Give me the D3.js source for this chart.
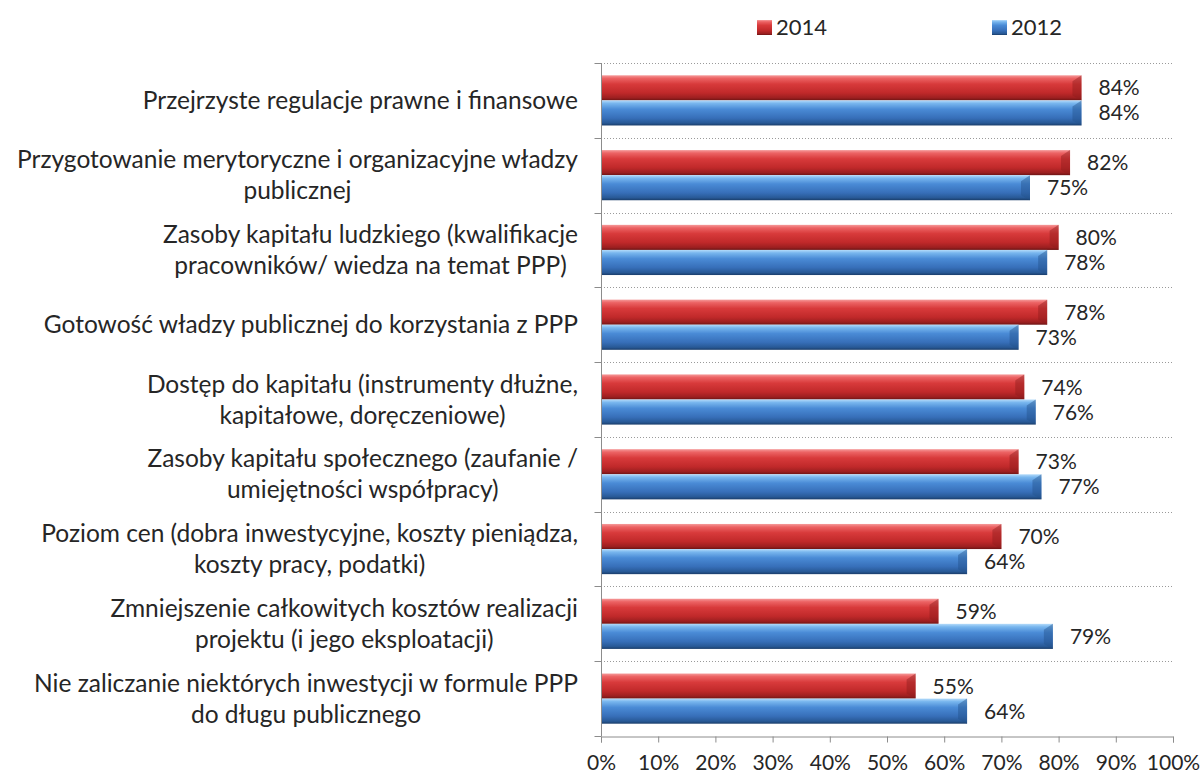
<!DOCTYPE html>
<html>
<head>
<meta charset="utf-8">
<script src="https://d3js.org/d3.v7.min.js"></script>
<style>
  body { margin: 0; background: #fff; }
  text { font-family: Lato, "Open Sans", sans-serif; fill: #262626; }
</style>
</head>
<body>
<div id="chart"></div>
<script>
// categories (top to bottom), each split into display lines
var categories = [
  ["Przejrzyste regulacje prawne i finansowe"],
  ["Przygotowanie merytoryczne i organizacyjne władzy", "publicznej"],
  ["Zasoby kapitału ludzkiego (kwalifikacje", "pracowników/ wiedza na temat PPP)"],
  ["Gotowość władzy publicznej do korzystania z PPP"],
  ["Dostęp do kapitału (instrumenty dłużne,", "kapitałowe, doręczeniowe)"],
  ["Zasoby kapitału społecznego (zaufanie /", "umiejętności współpracy)"],
  ["Poziom cen (dobra inwestycyjne, koszty pieniądza,", "koszty pracy, podatki)"],
  ["Zmniejszenie całkowitych kosztów realizacji", "projektu (i jego eksploatacji)"],
  ["Nie zaliczanie niektórych inwestycji w formule PPP", "do długu publicznego"]
];
var series = ["2014", "2012"];
var values2014 = [84, 82, 80, 78, 74, 73, 70, 59, 55];
var values2012 = [84, 75, 78, 73, 76, 77, 64, 79, 64];
var xTicks = [0, 10, 20, 30, 40, 50, 60, 70, 80, 90, 100];

var W = 1203, H = 776;
var plot = {left: 601, right: 1173, top: 63, bottom: 736};

var svg = d3.select("#chart").append("svg")
    .attr("width", W).attr("height", H);

var defs = svg.append("defs");
function grad(id, stops) {
  var g = defs.append("linearGradient").attr("id", id)
    .attr("x1", 0).attr("y1", 0).attr("x2", 0).attr("y2", 1);
  stops.forEach(function(s) {
    g.append("stop").attr("offset", s[0]).attr("stop-color", s[1]);
  });
}
grad("g2014", [[0, "#f59a9a"], [0.12, "#ec6364"], [0.35, "#d83a3b"], [0.7, "#c0292a"], [0.9, "#9c1f20"], [1, "#6e1414"]]);
grad("g2012", [[0, "#b4dbfa"], [0.12, "#78b6ee"], [0.35, "#4a8bd6"], [0.7, "#376fb9"], [0.9, "#285996"], [1, "#1a3d6a"]]);
var fills = {"2014": "url(#g2014)", "2012": "url(#g2012)"};
var darkEnd = {"2014": "#8e1c1d", "2012": "#24528c"};

var x = d3.scaleLinear().domain([0, 100]).range([plot.left, plot.right]);
var y = d3.scaleBand().domain(d3.range(categories.length)).range([plot.top, plot.bottom]);
var ys = d3.scaleBand().domain(series)
    .range([12.3, y.bandwidth() - 12.3]);

var data = categories.map(function(c, i) {
  return {i: i, lines: c, vals: {"2014": values2014[i], "2012": values2012[i]}};
});

// dotted gridlines at category boundaries
svg.selectAll(".grid").data(d3.range(categories.length)).enter().append("line")
  .attr("x1", plot.left).attr("x2", plot.right)
  .attr("y1", function(d) { return Math.round(y(d)) + 0.5; })
  .attr("y2", function(d) { return Math.round(y(d)) + 0.5; })
  .attr("stroke", "#9a9a9a").attr("stroke-width", 1)
  .attr("stroke-dasharray", "1,2");

// category axis
var yAxis = svg.append("g")
  .attr("transform", "translate(" + (plot.left + 0.5) + ",0)");
yAxis.append("line").attr("x1", 0).attr("x2", 0)
  .attr("y1", plot.top).attr("y2", plot.bottom).attr("stroke", "#8c8c8c");
yAxis.selectAll(".ct").data(d3.range(categories.length + 1)).enter().append("line")
  .attr("x1", -7).attr("x2", 0)
  .attr("y1", function(d) { return Math.round(plot.top + d * y.step()) + 0.5; })
  .attr("y2", function(d) { return Math.round(plot.top + d * y.step()) + 0.5; })
  .attr("stroke", "#8c8c8c");

// value axis
var xAxis = svg.append("g")
  .attr("transform", "translate(0," + (plot.bottom + 0.5) + ")")
  .call(d3.axisBottom(x).tickValues(xTicks).tickSize(6).tickPadding(13)
    .tickFormat(function(d) { return d + "%"; }));
xAxis.select(".domain").attr("stroke", "#8c8c8c");
xAxis.selectAll(".tick line").attr("stroke", "#8c8c8c");
xAxis.selectAll(".tick text").style("font-size", "21px")
  .style("font-family", "Lato, sans-serif").attr("fill", "#262626");

// bars
var groups = svg.selectAll(".cat").data(data).enter().append("g")
  .attr("transform", function(d) { return "translate(0," + y(d.i) + ")"; });

series.forEach(function(s) {
  groups.append("rect")
    .attr("x", x(0) + 1)
    .attr("y", ys(s))
    .attr("width", function(d) { return x(d.vals[s]) - x(0) - 1; })
    .attr("height", ys.bandwidth())
    .attr("fill", fills[s]);
  // bevel at the bar end
  groups.append("path")
    .attr("d", function(d) {
      var xe = x(d.vals[s]), y0 = ys(s), h = ys.bandwidth();
      return "M" + (xe - 9) + "," + (y0 + 6) + "L" + xe + "," + y0 +
             "L" + xe + "," + (y0 + h) + "L" + (xe - 9) + "," + (y0 + h - 5) + "Z";
    })
    .attr("fill", darkEnd[s]).attr("opacity", 0.45);
  groups.append("text")
    .attr("x", function(d) { return x(d.vals[s]) + 17; })
    .attr("y", ys(s) + ys.bandwidth() / 2)
    .attr("dy", "0.36em")
    .style("font-size", "21px")
    .text(function(d) { return d.vals[s] + "%"; });
});

// category labels, centered lines, block right-aligned
groups.each(function(d) {
  var g = d3.select(this);
  var n = d.lines.length, lh = 31;
  var texts = d.lines.map(function(l, k) {
    return g.append("text")
      .attr("y", y.bandwidth() / 2 + (k - (n - 1) / 2) * lh)
      .attr("dy", "0.35em")
      .attr("text-anchor", "middle")
      .style("font-size", "24.5px")
      .text(l);
  });
  var wMax = d3.max(texts, function(t) { return t.node().getComputedTextLength(); });
  texts.forEach(function(t) { t.attr("x", 578 - wMax / 2); });
});

// legend
var legend = svg.append("g");
[{s: "2014", x: 757}, {s: "2012", x: 992}].forEach(function(l) {
  legend.append("rect").attr("x", l.x).attr("y", 20).attr("width", 15).attr("height", 15)
    .attr("fill", fills[l.s]);
  legend.append("text").attr("x", l.x + 19).attr("y", 27.5).attr("dy", "0.36em")
    .style("font-size", "22px").text(l.s);
});
</script>
</body>
</html>
